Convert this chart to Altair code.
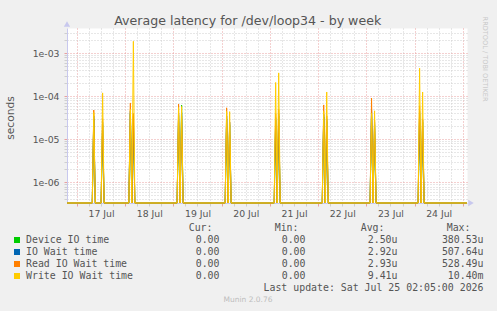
import json
import pandas as pd
import altair as alt

# ---------------- data ----------------
TITLE = "Average latency for /dev/loop34 - by week"
SERIES = ["Device IO time", "IO Wait time", "Read IO Wait time", "Write IO Wait time"]
COLORS = ["#00CC00", "#0066B3", "#FF8000", "#FFCC00"]

# time axis in hours since 16 Jul 00:00
T_START = 19.083   # 16 Jul 19:05
T_END = 218.083    # 25 Jul 02:05
DAY_LABELS = ["17 Jul", "18 Jul", "19 Jul", "20 Jul", "21 Jul", "22 Jul", "23 Jul", "24 Jul"]

Y_MIN = 3.31e-7
Y_MAX = 3.87e-3

SPIKE_HOURS = [32.4, 36.8, 50.6, 52.1, 74.6, 76.1, 98.5, 100.0,
               122.9, 124.4, 146.8, 148.3, 170.6, 172.1, 194.5, 196.0]
DEVICE = [3.0e-5, 2.2e-5, 4.0e-5, 3.0e-5, 3.6e-5, 6.2e-5, 3.0e-5, 2.2e-5,
          2.8e-5, 3.5e-5, 3.3e-5, 2.6e-5, 4.4e-5, 2.2e-5, 4.0e-5, 2.5e-5]
IOWAIT = [3.5e-5, 2.5e-5, 4.5e-5, 3.5e-5, 4.0e-5, 4.2e-5, 3.5e-5, 2.5e-5,
          3.2e-5, 4.0e-5, 3.8e-5, 3.0e-5, 5.0e-5, 2.5e-5, 4.5e-5, 2.8e-5]
READ = [4.8e-5, 3.0e-5, 7.0e-5, 4.0e-5, 6.6e-5, 3.5e-5, 5.4e-5, 2.5e-5,
        4.0e-5, 5.0e-5, 6.3e-5, 3.5e-5, 9.1e-5, 2.8e-5, 6.0e-5, 3.0e-5]
WRITE = [4.2e-5, 1.2e-4, 5.0e-5, 1.9e-3, 5.5e-5, 5.8e-5, 4.5e-5, 4.4e-5,
         2.1e-4, 3.5e-4, 4.5e-5, 1.26e-4, 4.0e-5, 4.6e-5, 4.5e-4, 1.26e-4]
SERIES_VALUES = [DEVICE, IOWAIT, READ, WRITE]

LEG_CUR = ["0.00", "0.00", "0.00", "0.00"]
LEG_MIN = ["0.00", "0.00", "0.00", "0.00"]
LEG_AVG = ["2.50u", "2.92u", "2.93u", "9.41u"]
LEG_MAX = ["380.53u", "507.64u", "528.49u", "10.40m"]
LAST_UPDATE = "Last update: Sat Jul 25 02:05:00 2026"
MUNIN = "Munin 2.0.76"
WATERMARK = "RRDTOOL / TOBI OETIKER"

# ---------------- style ----------------
LEFT, TOP = 67, 28
W, H = 400, 175
HALF = 0.75  # spike half width in hours
RED = "#E8A0A0"
GRAY = "#CFCFCF"
AXIS_COL = "#C8C8EE"
TXT = "#555555"
SANS = "DejaVu Sans"
MONO = "DejaVu Sans Mono"

x_vals = list(range(24, 217, 6))
y_vals = [m * 10.0 ** e for e in range(-7, -2) for m in range(1, 10)
          if Y_MIN <= m * 10.0 ** e <= Y_MAX]

is_decade = "abs(log(datum.value)/LN10 - round(log(datum.value)/LN10)) < 1e-6"

x_enc = alt.X(
    "h:Q",
    scale=alt.Scale(domain=[T_START, T_END], nice=False, zero=False),
    axis=alt.Axis(
        values=x_vals, title=None,
        labelExpr=f"datum.value % 24 == 12 ? {json.dumps(DAY_LABELS)}[floor(datum.value / 24) - 1] : ''",
        labelFont=SANS, labelFontSize=9.3, labelColor=TXT,
        labelBaseline="alphabetic", labelPadding=10, labelFlush=False,
        labelOverlap=False,
        tickSize=3,
        tickColor={"condition": {"test": "datum.value % 24 == 0", "value": RED}, "value": GRAY},
        grid=True, gridDash=[1, 2], gridWidth=1,
        gridColor={"condition": {"test": "datum.value % 24 == 0", "value": RED}, "value": GRAY},
        domainColor=AXIS_COL, domainWidth=1,
    ),
)
y_enc = alt.Y(
    "v:Q",
    scale=alt.Scale(type="log", domain=[Y_MIN, Y_MAX], nice=False),
    axis=alt.Axis(
        values=y_vals, title=None,
        labelExpr=f"({is_decade}) ? '1e-0' + abs(round(log(datum.value)/LN10)) : ''",
        labelFont=SANS, labelFontSize=9.3, labelColor=TXT,
        labelBaseline="middle", labelPadding=5, labelFlush=False,
        labelOverlap=False,
        tickSize=3,
        tickColor={"condition": {"test": is_decade, "value": RED}, "value": GRAY},
        grid=True, gridDash=[1, 2], gridWidth=1,
        gridColor={"condition": {"test": is_decade, "value": RED}, "value": GRAY},
        domainColor=AXIS_COL, domainWidth=1,
    ),
)


def series_frame(vals):
    rows = [(T_START, Y_MIN)]
    for h, v in zip(SPIKE_HOURS, vals):
        rows += [(h - HALF, Y_MIN), (h, v), (h + HALF, Y_MIN)]
    rows.append((T_END, Y_MIN))
    df = pd.DataFrame(rows, columns=["h", "v"]).drop_duplicates()
    df["i"] = range(len(df))
    return df


layers = []
# golden fill beneath the spikes
layers.append(
    alt.Chart(series_frame(WRITE)).mark_area(color="#D9A400", opacity=0.45, interpolate="linear")
    .encode(x=x_enc, y=y_enc, y2=alt.Y2(datum=Y_MIN), order="i:Q")
)
for vals, col in zip(SERIES_VALUES, COLORS):
    layers.append(
        alt.Chart(series_frame(vals)).mark_line(color=col, strokeWidth=1, interpolate="linear")
        .encode(x=x_enc, y=y_enc, order="i:Q")
    )


def txt(s, x, y, size, font=SANS, color=TXT, align="left", baseline="alphabetic", angle=0):
    kw = dict(align=align, baseline=baseline, font=font, fontSize=size, color=color)
    if angle:
        kw["angle"] = angle
    return (alt.Chart(pd.DataFrame({"t": [s]})).mark_text(**kw)
            .encode(x=alt.value(x - LEFT), y=alt.value(y - TOP), text="t:N"))


# axis arrows
layers.append(alt.Chart(pd.DataFrame({"a": [0]})).mark_point(shape="triangle-up", filled=True, size=40,
                                                               color=AXIS_COL, opacity=1)
              .encode(x=alt.value(0), y=alt.value(-4)))
layers.append(alt.Chart(pd.DataFrame({"a": [0]})).mark_point(shape="triangle-right", filled=True, size=40,
                                                               color=AXIS_COL, opacity=1)
              .encode(x=alt.value(W + 4), y=alt.value(H)))

# titles
layers.append(txt(TITLE, 247.7, 25, 12.6, align="center"))
layers.append(txt("seconds", 11, 118, 10.7, align="center", baseline="middle", angle=270))
layers.append(txt(WATERMARK, 485, 59, 6.6, color="#C8C8C8", align="center", baseline="middle", angle=90))
layers.append(txt(MUNIN, 248, 302, 7.5, color="#BDBDBD", align="center"))

# legend
FS = 9.9
layers.append(txt("Cur:", 212.5, 231, FS, font=MONO, align="right"))
layers.append(txt("Min:", 298.5, 231, FS, font=MONO, align="right"))
layers.append(txt("Avg:", 384.5, 231, FS, font=MONO, align="right"))
layers.append(txt("Max:", 470.5, 231, FS, font=MONO, align="right"))
for k, name in enumerate(SERIES):
    yb = 243 + 12 * k
    layers.append(
        alt.Chart(pd.DataFrame({"a": [0]})).mark_square(size=36, color=COLORS[k], opacity=1)
        .encode(x=alt.value(17 - LEFT), y=alt.value(yb - 3 - TOP))
    )
    layers.append(txt(name, 26, yb, FS, font=MONO))
    layers.append(txt(LEG_CUR[k], 219.5, yb, FS, font=MONO, align="right"))
    layers.append(txt(LEG_MIN[k], 305.5, yb, FS, font=MONO, align="right"))
    layers.append(txt(LEG_AVG[k], 397.5, yb, FS, font=MONO, align="right"))
    layers.append(txt(LEG_MAX[k], 483.5, yb, FS, font=MONO, align="right"))
layers.append(txt(LAST_UPDATE, 483.5, 291, FS, font=MONO, align="right"))

chart = (
    alt.layer(*layers)
    .properties(width=W, height=H, autosize="none",
                padding={"left": LEFT, "top": TOP, "right": 497 - LEFT - W, "bottom": 311 - TOP - H},
                background="#F0F0F0")
    .configure_view(fill="white", stroke="transparent")
)

chart.save("out.html", embed_options={"renderer": "svg", "actions": False})
